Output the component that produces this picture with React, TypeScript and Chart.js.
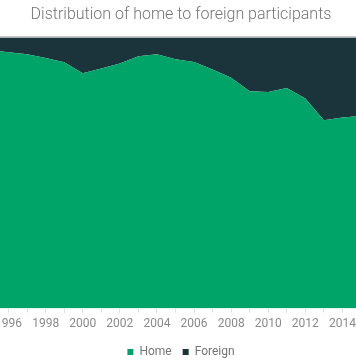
import React, { useEffect, useRef } from "react";
import { Chart, registerables } from "chart.js";

Chart.register(...registerables);

const years: string[] = [
  "1995", "1996", "1997", "1998", "1999", "2000", "2001", "2002", "2003", "2004",
  "2005", "2006", "2007", "2008", "2009", "2010", "2011", "2012", "2013", "2014", "2015",
];
const homeShare: number[] = [
  95.2, 94.5, 93.7, 92.3, 90.8, 86.7, 88.5, 90.3, 93.0, 93.7,
  91.9, 90.9, 88.1, 85.1, 80.1, 79.8, 81.3, 77.4, 69.4, 70.4, 71.0,
];
const foreignShare: number[] = homeShare.map((v) => Math.round((100 - v) * 10) / 10);
const titleText = "Distribution of home to foreign participants";

const topLine = {
  id: "topLine",
  afterDatasetsDraw(chart: any) {
    const { ctx, chartArea } = chart;
    ctx.save();
    ctx.strokeStyle = "#bdbdbd";
    ctx.lineWidth = 1;
    ctx.beginPath();
    ctx.moveTo(0, chartArea.top - 0.5);
    ctx.lineTo(chart.width, chartArea.top - 0.5);
    ctx.stroke();
    ctx.restore();
  },
};

export default function App() {
  const ref = useRef<HTMLCanvasElement | null>(null);
  useEffect(() => {
    if (!ref.current) return;
    const chart = new Chart(ref.current, {
      type: "line",
      data: {
        labels: years,
        datasets: [
          {
            label: "Home",
            data: homeShare,
            backgroundColor: "#00a469",
            borderColor: "#00a469",
            borderWidth: 0,
            pointRadius: 0,
            fill: "origin",
            tension: 0,
          },
          {
            label: "Foreign",
            data: foreignShare,
            backgroundColor: "#1b333a",
            borderColor: "#1b333a",
            borderWidth: 0,
            pointRadius: 0,
            fill: "-1",
            tension: 0,
          },
        ],
      },
      options: {
        animation: false,
        responsive: true,
        maintainAspectRatio: false,
        layout: { padding: 0 },
        plugins: {
          title: {
            display: true,
            text: titleText,
            color: "#757575",
            font: { family: "Roboto", size: 16, weight: "300" },
            padding: { top: 5, bottom: 13 },
          },
          legend: {
            position: "bottom",
            labels: {
              boxWidth: 6,
              boxHeight: 6,
              color: "#757575",
              font: { family: "Roboto", size: 12 },
              padding: 11,
            },
          },
          tooltip: { enabled: false },
        },
        scales: {
          x: {
            grid: { drawOnChartArea: false, tickLength: 4, color: "#dddddd" },
            border: { display: false },
            ticks: {
              autoSkip: false,
              maxRotation: 0,
              padding: 4,
              color: "#8a8a8a",
              font: { family: "Roboto", size: 12 },
              callback: (_v: any, i: number) => (Number(years[i]) % 2 === 0 ? years[i] : ""),
            },
          },
          y: {
            display: true,
            position: "right",
            stacked: true,
            min: 0,
            max: 100,
            grid: { display: false },
            border: { display: false },
            ticks: { display: false },
            afterFit: (scale: any) => {
              scale.width = 15;
            },
          },
        },
      },
      plugins: [topLine],
    });
    return () => chart.destroy();
  }, []);
  return (
    <div style={{ position: "fixed", left: 0, top: 0, width: 356, height: 364, overflow: "hidden", background: "#fff" }}>
      <div style={{ position: "absolute", left: -14, top: 0, width: 390, height: 368 }}>
        <canvas ref={ref} />
      </div>
    </div>
  );
}
